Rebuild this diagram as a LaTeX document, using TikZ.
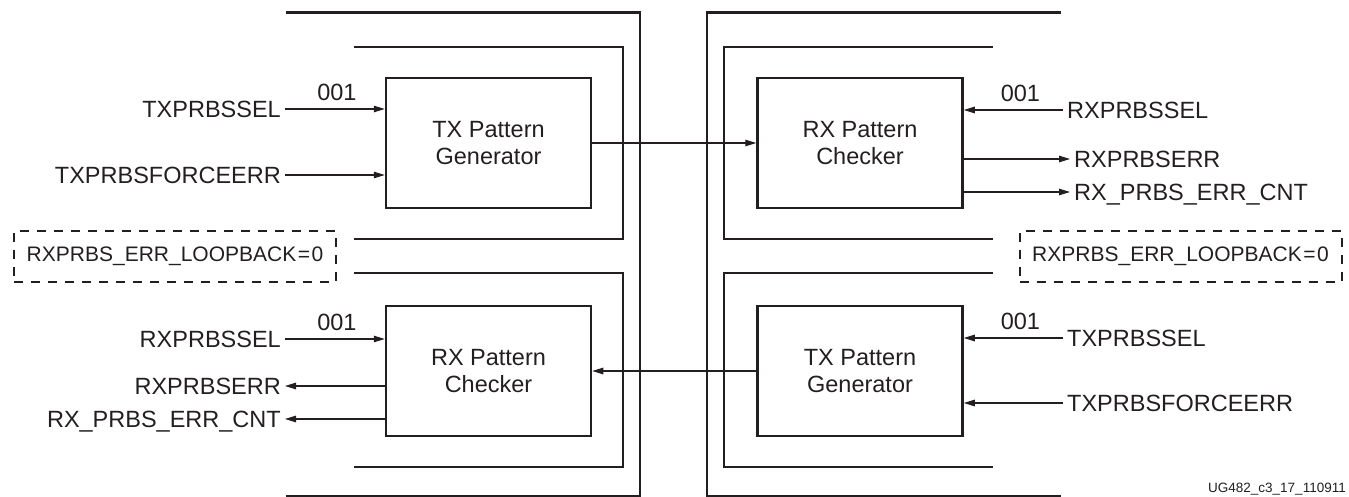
\documentclass[tikz,border=0pt]{standalone}
\usepackage{fontspec}
\setmainfont{Liberation Sans}
\usetikzlibrary{arrows.meta}
\definecolor{ink}{RGB}{35,31,32}
\begin{document}
\begin{tikzpicture}[x=1pt,y=-1pt,
  every node/.style={text=ink},
  frame/.style={draw=ink, line width=2.5pt},
  block/.style={draw=ink, line width=2.5pt, minimum width=205pt, minimum height=130pt,
    align=center, font=\fontsize{23.5pt}{27pt}\selectfont, inner sep=0pt},
  sig/.style={font=\fontsize{23.5pt}{27pt}\selectfont, inner sep=4pt, text height=16.8pt, text depth=0pt},
  lbl/.style={font=\fontsize{23.5pt}{27pt}\selectfont, inner sep=0pt, anchor=base, yshift=8.5pt},
  wire/.style={draw=ink, line width=1.2pt, -{Triangle[length=11pt,width=6.5pt]}},
  cfg/.style={draw=ink, line width=2pt, dash pattern=on 9pt off 8pt, minimum width=322pt,
    minimum height=51pt, inner sep=0pt, font=\fontsize{21pt}{24pt}\selectfont}
]
\useasboundingbox (0,0) rectangle (1349,497);

% brackets (left)
\draw[frame] (286,12.7) -- (640,12.7) -- (640,496) -- (286,496);
\draw[frame] (354,47) -- (623,47) -- (623,239) -- (354,239);
\draw[frame] (354,273) -- (623,273) -- (623,467) -- (354,467);
% brackets (right)
\draw[frame] (1061,12.7) -- (707,12.7) -- (707,496) -- (1061,496);
\draw[frame] (993,47) -- (724,47) -- (724,239) -- (993,239);
\draw[frame] (993,273) -- (724,273) -- (724,467) -- (993,467);

% blocks
\node[block] (txg)  at (488.5,143) {TX Pattern\\Generator};
\node[block] (rxc)  at (860,143)   {RX Pattern\\Checker};
\node[block] (rxc2) at (488.5,371) {RX Pattern\\Checker};
\node[block] (txg2) at (860,371)   {TX Pattern\\Generator};

% block-to-block links
\draw[wire] (txg.east) -- (rxc.west);
\draw[wire] (txg2.west) -- (rxc2.east);

% upper left signals
\node[sig, anchor=east] (s1) at (285,109) {TXPRBSSEL};
\node[sig, anchor=east] (s2) at (285,175) {TXPRBSFORCEERR};
\draw[wire] (s1.east) -- (s1.east -| txg.west) node[lbl, midway, xshift=2pt] (v1) {001};
\draw[wire] (s2.east) -- (s2.east -| txg.west);

% upper right signals
\node[sig, anchor=west] (s3) at (1063,110) {RXPRBSSEL};
\node[sig, anchor=west] (s4) at (1070,159) {RXPRBSERR};
\node[sig, anchor=west] (s5) at (1070,192) {RX\_PRBS\_ERR\_CNT};
\draw[wire] (s3.west) -- (s3.west -| rxc.east) node[lbl, midway, xshift=7pt] (v2) {001};
\draw[wire] (s4.west -| rxc.east) -- (s4.west);
\draw[wire] (s5.west -| rxc.east) -- (s5.west);

% lower left signals
\node[sig, anchor=east] (s6) at (285,339) {RXPRBSSEL};
\node[sig, anchor=east] (s7) at (285,386) {RXPRBSERR};
\node[sig, anchor=east] (s8) at (285,419) {RX\_PRBS\_ERR\_CNT};
\draw[wire] (s6.east) -- (s6.east -| rxc2.west) node[lbl, midway, xshift=2pt] (v3) {001};
\draw[wire] (s7.east -| rxc2.west) -- (s7.east);
\draw[wire] (s8.east -| rxc2.west) -- (s8.east);

% lower right signals
\node[sig, anchor=west] (s9)  at (1063,338) {TXPRBSSEL};
\node[sig, anchor=west] (s10) at (1063,403) {TXPRBSFORCEERR};
\draw[wire] (s9.west) -- (s9.west -| txg2.east) node[lbl, midway, xshift=7pt] (v4) {001};
\draw[wire] (s10.west) -- (s10.west -| txg2.east);

% loopback attributes
\node[cfg] (lb1) at (175,256.5)  {RXPRBS\_ERR\_LOOPBACK\hspace{1.5pt}=\hspace{1.5pt}0};
\node[cfg] (lb2) at (1180.5,256.5) {RXPRBS\_ERR\_LOOPBACK\hspace{1.5pt}=\hspace{1.5pt}0};

% figure id
\node[font=\fontsize{13.5pt}{15pt}\selectfont, anchor=base east, inner sep=0pt] (fid) at (1346,492.5) {UG482\_c3\_17\_110911};
\end{tikzpicture}
\end{document}
